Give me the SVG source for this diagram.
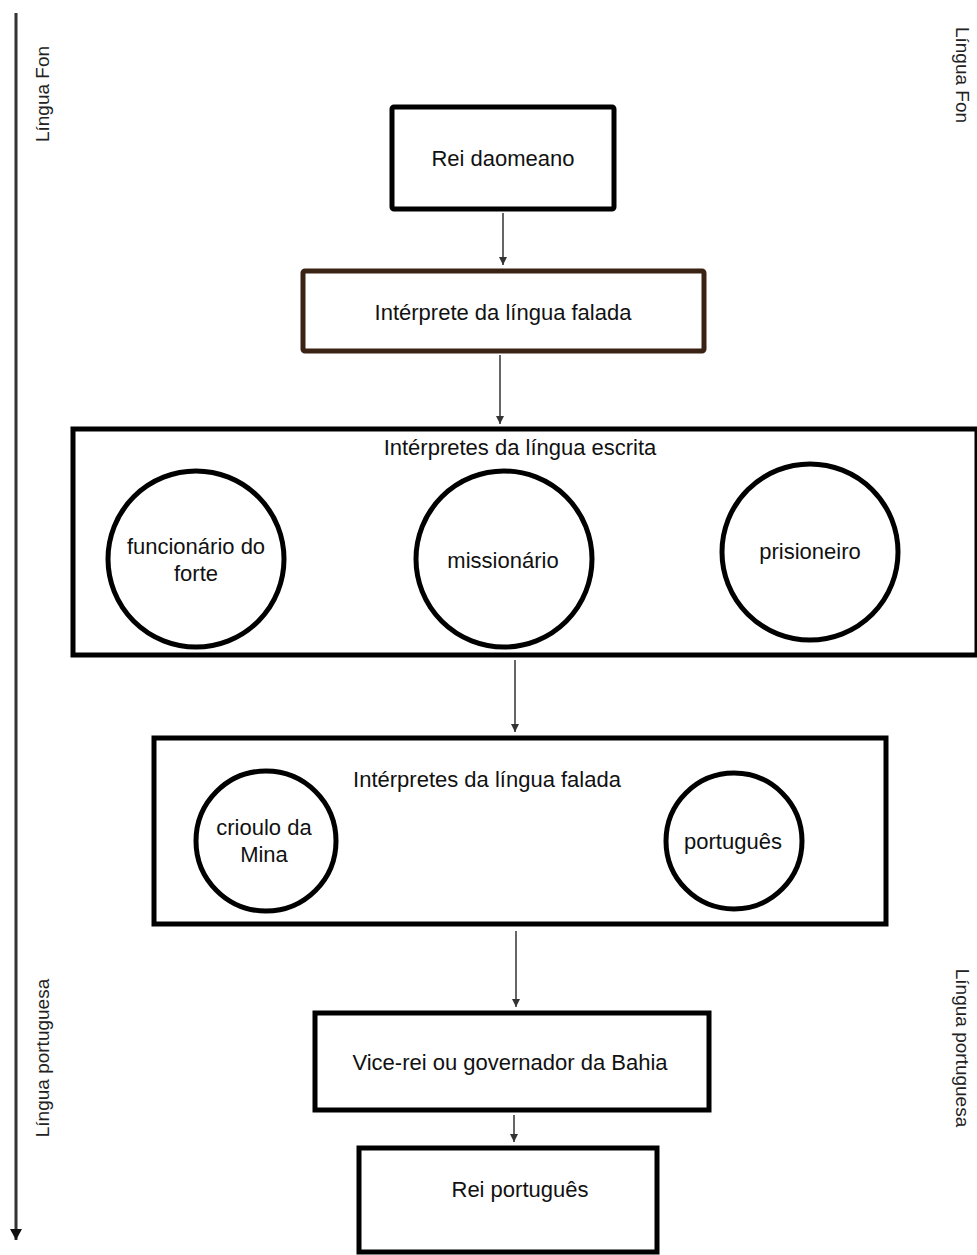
<svg xmlns="http://www.w3.org/2000/svg" width="977" height="1255" viewBox="0 0 977 1255">
<defs>
<marker id="ah" markerWidth="10" markerHeight="10" refX="9" refY="5" orient="auto" markerUnits="userSpaceOnUse">
<path d="M1,1 L9,5 L1,9 Z" fill="#333"/>
</marker>
<marker id="ahb" markerWidth="14" markerHeight="14" refX="12" refY="7" orient="auto" markerUnits="userSpaceOnUse">
<path d="M1,1 L12,7 L1,13 Z" fill="#111"/>
</marker>
</defs>
<style>
.box{fill:#fff;stroke:#000;stroke-width:5}
.circ{fill:#fff;stroke:#000;stroke-width:5}
.t{font-family:"Liberation Sans",Arial,sans-serif;font-size:22px;fill:#111;text-anchor:middle;dominant-baseline:central}
.side{font-family:"Liberation Sans",Arial,sans-serif;font-size:19px;fill:#222;text-anchor:middle;dominant-baseline:central}
.conn{stroke:#333;stroke-width:1.5;fill:none}
</style>
<rect width="977" height="1255" fill="#fff"/>

<g id="axis-left">
<line x1="16" y1="13" x2="16" y2="1240" stroke="#333" stroke-width="3" marker-end="url(#ahb)"/>
<text class="side" transform="translate(42,94) rotate(-90)">Língua Fon</text>
<text class="side" transform="translate(42,1058) rotate(-90)">Língua portuguesa</text>
</g>
<g id="axis-right">
<text class="side" transform="translate(962,75) rotate(90)">Língua Fon</text>
<text class="side" transform="translate(962,1048) rotate(90)">Língua portuguesa</text>
</g>

<g id="connectors">
<line class="conn" x1="503" y1="213" x2="503" y2="265" marker-end="url(#ah)"/>
<line class="conn" x1="500" y1="355" x2="500" y2="424" marker-end="url(#ah)"/>
<line class="conn" x1="515" y1="660" x2="515" y2="732" marker-end="url(#ah)"/>
<line class="conn" x1="516" y1="931" x2="516" y2="1007" marker-end="url(#ah)"/>
<line class="conn" x1="514" y1="1115" x2="514" y2="1142" marker-end="url(#ah)"/>
</g>

<g id="rei-daomeano">
<rect class="box" x="392" y="107" width="222" height="102" rx="2"/>
<text class="t" x="503" y="158">Rei daomeano</text>
</g>

<g id="interprete-falada">
<rect class="box" style="stroke:#3a2214" x="303" y="271" width="401" height="80" rx="2"/>
<text class="t" x="503" y="312">Intérprete da língua falada</text>
</g>

<g id="interpretes-escrita">
<rect class="box" x="73" y="429" width="904" height="226"/>
<text class="t" x="520" y="447">Intérpretes da língua escrita</text>
</g>
<g id="funcionario">
<circle class="circ" cx="196" cy="559" r="88"/>
<text class="t" x="196" y="546">funcionário do</text>
<text class="t" x="196" y="573">forte</text>
</g>
<g id="missionario">
<circle class="circ" cx="504" cy="559" r="88"/>
<text class="t" x="503" y="560">missionário</text>
</g>
<g id="prisioneiro">
<circle class="circ" cx="810" cy="552" r="88"/>
<text class="t" x="810" y="551">prisioneiro</text>
</g>

<g id="interpretes-falada">
<rect class="box" x="154" y="738" width="732" height="186"/>
<text class="t" x="487" y="779">Intérpretes da língua falada</text>
</g>
<g id="crioulo">
<circle class="circ" cx="266" cy="841" r="70"/>
<text class="t" x="264" y="827">crioulo da</text>
<text class="t" x="264" y="854">Mina</text>
</g>
<g id="portugues">
<circle class="circ" cx="734" cy="841" r="68"/>
<text class="t" x="733" y="841">português</text>
</g>

<g id="vice-rei">
<rect class="box" x="315" y="1013" width="394" height="97"/>
<text class="t" x="510" y="1062">Vice-rei ou governador da Bahia</text>
</g>

<g id="rei-portugues">
<rect class="box" x="359" y="1148" width="298" height="104"/>
<text class="t" x="520" y="1189">Rei português</text>
</g>
</svg>
